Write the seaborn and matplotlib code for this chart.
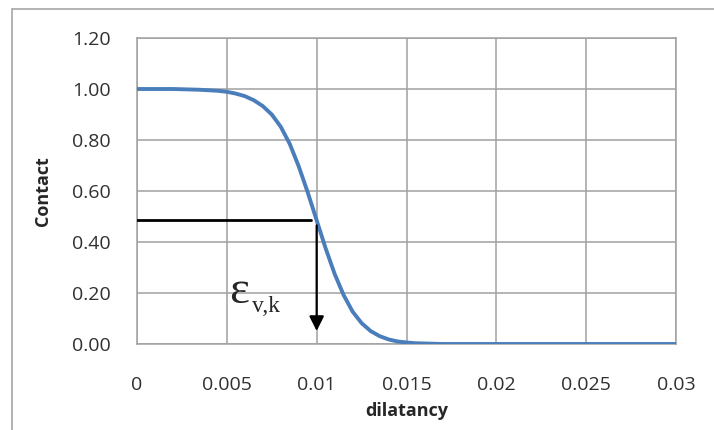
import matplotlib
matplotlib.use('Agg')
import matplotlib.pyplot as plt
import seaborn as sns
from matplotlib.patches import Rectangle

# Curve
dilatancy = [0.0, 0.0005, 0.001, 0.0015, 0.002, 0.0025, 0.003, 0.0035, 0.004, 0.0045,
             0.005, 0.0055, 0.006, 0.0065, 0.007, 0.0075, 0.008, 0.0085, 0.009, 0.0095,
             0.010, 0.0105, 0.011, 0.0115, 0.012, 0.0125, 0.013, 0.0135, 0.014, 0.0145,
             0.015, 0.0155, 0.016, 0.0165, 0.017, 0.018, 0.020, 0.022, 0.024, 0.026,
             0.028, 0.030]
contact = [1.000, 1.000, 1.000, 1.000, 1.000, 0.999, 0.998, 0.997, 0.995, 0.993,
           0.989, 0.982, 0.972, 0.956, 0.933, 0.900, 0.852, 0.785, 0.697, 0.595,
           0.485, 0.375, 0.275, 0.192, 0.127, 0.082, 0.051, 0.031, 0.018, 0.010,
           0.006, 0.003, 0.002, 0.001, 0.000, 0.000, 0.000, 0.000, 0.000, 0.000,
           0.000, 0.000]

# Marker lines for eps_v,k
eps_vk = 0.01
contact_k = 0.486
arrow_end = 0.04

x_ticks = [0, 0.005, 0.01, 0.015, 0.02, 0.025, 0.03]
x_labels = ['0', '0.005', '0.01', '0.015', '0.02', '0.025', '0.03']
y_ticks = [0.0, 0.2, 0.4, 0.6, 0.8, 1.0, 1.2]
y_labels = ['0.00', '0.20', '0.40', '0.60', '0.80', '1.00', '1.20']

sns.set_style('white')
plt.rcParams['font.family'] = ['Open Sans', 'DejaVu Sans']

fig = plt.figure(figsize=(7.14, 4.30), dpi=100)
ax = fig.add_axes([137 / 714, 1 - 344 / 430, 539 / 714, 306 / 430])

# chart area border
fig.patches.append(Rectangle((12 / 714, -0.5), 2, 1.5 - 9 / 430, transform=fig.transFigure,
                             fill=False, edgecolor='#a6a6a6', linewidth=1.2))

sns.lineplot(x=dilatancy, y=contact, ax=ax, color='#4a7ebb', linewidth=2.8, zorder=3)

ax.plot([0, eps_vk - 0.0003], [contact_k, contact_k], color='black', linewidth=2, zorder=4)
ax.annotate('', xy=(eps_vk, arrow_end), xytext=(eps_vk, contact_k - 0.01),
            arrowprops=dict(arrowstyle='-|>', color='black', lw=1.6, mutation_scale=22),
            zorder=4)
ax.text(0.0051, 0.162, 'ε', family='Liberation Serif', fontsize=34, va='baseline', ha='left')
ax.text(0.0064, 0.125, 'v,k', family='Liberation Serif', fontsize=17, va='baseline', ha='left')

ax.set_xlim(0, 0.03)
ax.set_ylim(0, 1.2)
ax.set_xticks(x_ticks)
ax.set_xticklabels(x_labels)
ax.set_yticks(y_ticks)
ax.set_yticklabels(y_labels)
ax.grid(True, color='#a0a0a0', linewidth=1.1)
for s in ax.spines.values():
    s.set_color('#a0a0a0')
    s.set_linewidth(1.1)
ax.tick_params(axis='both', direction='out', length=7, width=1.1, color='#a0a0a0',
               labelsize=14, labelcolor='#303030')
ax.tick_params(axis='x', pad=16)
ax.tick_params(axis='y', pad=12)
ax.set_xlabel('dilatancy', fontsize=13, fontweight='bold', labelpad=6)
ax.set_ylabel('Contact', fontsize=13, fontweight='bold', labelpad=14)

plt.savefig('out.png', dpi=100)
